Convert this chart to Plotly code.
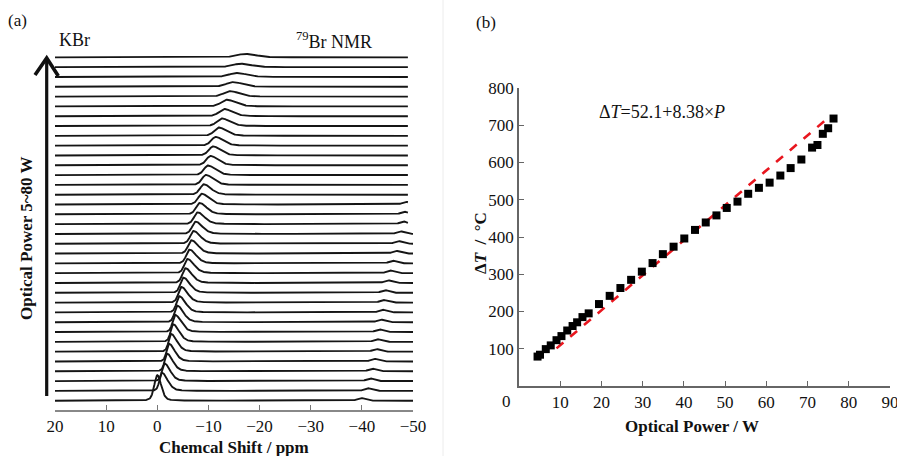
import numpy as np
import plotly.graph_objects as go

W, H = 897, 456
FONT = "Liberation Serif, Times New Roman, serif"

# ---------------- panel (a): stacked 79Br NMR spectra ----------------
ppm_ticks = [20, 10, 0, -10, -20, -30, -40, -50]
# main peak position (ppm) for each spectrum, bottom (5 W) to top (80 W)
peak_pos = [0.0, -0.9, -1.4, -1.9, -2.3, -2.7, -3.1, -3.5, -3.9, -4.3,
            -4.7, -5.1, -5.5, -5.9, -6.3, -6.7, -7.1, -7.5, -7.9, -8.3,
            -8.7, -9.1, -9.5, -9.9, -10.4, -10.9, -11.4, -12.0, -12.6, -13.1,
            -13.6, -14.2, -14.8, -15.5, -16.3, -17.2]
# main peak height (in units of the stacking offset)
peak_h = [2.6, 1.85, 1.8, 1.8, 1.8, 1.8, 1.8, 1.75, 1.7, 1.65,
          1.6, 1.55, 1.5, 1.45, 1.4, 1.35, 1.3, 1.25, 1.2, 1.15,
          1.1, 1.06, 1.02, 0.98, 0.95, 0.92, 0.89, 0.85, 0.78, 0.74,
          0.68, 0.56, 0.48, 0.41, 0.35, 0.35]
# half widths (ppm) on the high-ppm (steep) side and low-ppm (tail) side
peak_wl = [0.7, 0.55, 0.55, 0.55, 0.56, 0.57, 0.58, 0.6, 0.62, 0.64,
           0.66, 0.68, 0.7, 0.72, 0.74, 0.76, 0.78, 0.8, 0.82, 0.84,
           0.86, 0.88, 0.9, 0.92, 0.95, 0.98, 1.0, 1.05, 1.1, 1.2,
           1.3, 1.45, 1.6, 1.75, 1.9, 2.0]
peak_wr = [0.9, 1.3, 1.3, 1.3, 1.32, 1.34, 1.36, 1.38, 1.4, 1.42,
           1.44, 1.46, 1.48, 1.5, 1.5, 1.52, 1.54, 1.56, 1.58, 1.6,
           1.62, 1.64, 1.66, 1.68, 1.7, 1.72, 1.75, 1.8, 1.85, 1.9,
           2.0, 2.1, 2.2, 2.3, 2.4, 2.5]
# small satellite peak (ppm), present in the lower 21 spectra
sat_pos = [-39.8, -41.1, -41.6, -42.0, -42.4, -42.8, -43.0, -43.4, -43.7, -44.0,
           -44.2, -44.5, -45.1, -45.5, -46.0, -46.7, -47.1, -47.5, -48.1, -48.3, -48.6]
sat_h = [0.27] * 21
# right end (ppm) of each recorded spectrum
spec_end = [-50.2] * 18 + [-49.0] * 18


def pv(x, p, wl, wr, eta=0.3):
    w = np.where(x >= p, wl, wr)
    u = (x - p) / w
    return eta / (1 + u ** 2) + (1 - eta) * np.exp(-np.log(2) * u ** 2)


fig = go.Figure()
for i in range(len(peak_pos)):
    x = np.linspace(20, spec_end[i], 900)
    y = i + peak_h[i] * pv(x, peak_pos[i], peak_wl[i], peak_wr[i])
    if i < len(sat_pos):
        y = y + sat_h[i] * pv(x, sat_pos[i], 0.8, 0.9, 0.2)
    fig.add_trace(go.Scatter(x=x, y=y, mode="lines", xaxis="x", yaxis="y",
                             line=dict(color="#151515", width=1.9),
                             showlegend=False, hoverinfo="skip", cliponaxis=False))

# ---------------- panel (b): temperature rise vs optical power ----------------
power_w = [4.5, 5.1, 6.5, 7.7, 9.1, 10.3, 11.7, 13.0, 14.1, 15.4,
           16.9, 19.4, 22.0, 24.6, 27.2, 29.8, 32.4, 34.9, 37.5, 40.1,
           42.7, 45.3, 47.9, 50.4, 53.0, 55.6, 58.2, 60.8, 63.4, 65.9,
           68.5, 71.1, 72.4, 73.7, 75.0, 76.3]
delta_t = [79, 84, 99, 109, 123, 134, 149, 161, 171, 185,
           195, 220, 242, 263, 285, 307, 330, 354, 374, 396,
           419, 439, 458, 478, 495, 516, 532, 546, 565, 585,
           608, 640, 647, 677, 692, 718]
fit_x = [9.1, 74.5]
fit_y = [101, 715]
b_xticks = [10, 20, 30, 40, 50, 60, 70, 80, 90]
b_yticks = [100, 200, 300, 400, 500, 600, 700, 800]

fig.add_trace(go.Scatter(x=fit_x, y=fit_y, mode="lines", xaxis="x2", yaxis="y2",
                         line=dict(color="#e8161e", width=2.6, dash="dash"),
                         showlegend=False))
fig.add_trace(go.Scatter(x=power_w, y=delta_t, mode="markers", xaxis="x2", yaxis="y2",
                         marker=dict(symbol="square", size=8, color="#000000"),
                         showlegend=False))


def px(x):
    return x / W


def py(y):
    return 1 - y / H


tickfont = dict(family=FONT, size=17, color="#111")
fig.update_layout(
    template="none",
    width=W, height=H, margin=dict(l=0, r=0, t=0, b=0, pad=0), autosize=False,
    paper_bgcolor="white", plot_bgcolor="white",
    font=dict(family=FONT, size=16, color="#111"),
    xaxis=dict(domain=[px(55), px(413)], range=[20, -50], tickvals=ppm_ticks,
               ticks="inside", ticklen=5, tickwidth=1.2, tickcolor="#777",
               showline=True, linecolor="#888", linewidth=1.5, automargin=False,
               ticklabeloverflow="allow",
               showgrid=False, zeroline=False, tickfont=tickfont, anchor="y"),
    yaxis=dict(domain=[py(410), py(40)], range=[-0.948, 36.77], visible=False,
               anchor="x", automargin=False),
    xaxis2=dict(domain=[px(519), px(890)], range=[0, 90], tickvals=b_xticks,
                ticks="inside", ticklen=5, tickwidth=1.2, tickcolor="#666",
                showline=True, linecolor="#666", linewidth=1.5, automargin=False,
                ticklabeloverflow="allow",
                showgrid=False, zeroline=False, tickfont=tickfont, anchor="y2"),
    yaxis2=dict(domain=[py(386), py(88)], range=[0, 800], tickvals=b_yticks,
                ticks="inside", ticklen=5, tickwidth=1.2, tickcolor="#666",
                showline=True, linecolor="#666", linewidth=1.5, automargin=False,
                ticklabeloverflow="allow",
                showgrid=False, zeroline=False, tickfont=tickfont, anchor="x2"),
)


def ann(text, x, y, size=16, bold=False, xanchor="center", angle=0):
    if bold:
        text = "<b>" + text + "</b>"
    fig.add_annotation(text=text, x=px(x), y=py(y), xref="paper", yref="paper",
                       showarrow=False, xanchor=xanchor, yanchor="middle",
                       textangle=angle, font=dict(family=FONT, size=size, color="#111"))


ann("(a)", 17, 20, size=17)
ann("KBr", 57, 40, size=18, xanchor="left")
ann("<sup>79</sup>Br NMR", 294, 40, size=18, xanchor="left")
ann("Chemcal Shift / ppm", 234, 447, size=17, bold=True)
ann("Optical Power 5~80 W", 27, 238, size=17, bold=True, angle=-90)
ann("(b)", 486, 22, size=17)
ann("Δ<i>T</i>=52.1+8.38×<i>P</i>", 597, 112, size=18, xanchor="left")
ann("Δ<i>T</i>  /  °C", 480, 243, size=17, bold=True, angle=-90)
ann("Optical Power / W", 692, 426, size=17, bold=True)
ann("0", 507, 401, size=17)

# power arrow for panel (a)
fig.add_shape(type="line", xref="paper", yref="paper",
              x0=px(46.7), x1=px(46.7), y0=py(396), y1=py(59),
              line=dict(color="#111", width=3.2))
fig.add_shape(type="path", xref="paper", yref="paper",
              path=f"M {px(35)} {py(75)} L {px(46.7)} {py(58)} L {px(58.3)} {py(76)}",
              line=dict(color="#111", width=3.6))
# faint sub-figure border
fig.add_shape(type="line", xref="paper", yref="paper", x0=px(443), x1=px(443),
              y0=0, y1=1, line=dict(color="#ececec", width=1))

fig.write_html(
    "out.html",
    config={"displayModeBar": False},
    post_script="document.body.style.margin='0';document.body.style.overflow='hidden';",
)
